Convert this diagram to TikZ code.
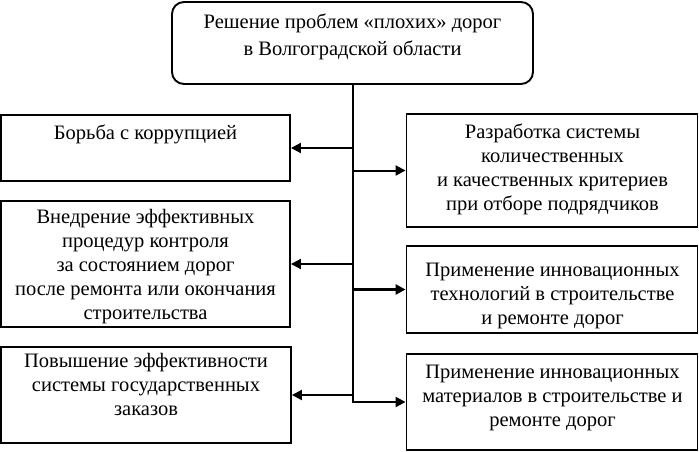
\documentclass[tikz,border=0pt]{standalone}
\usepackage{fontspec}
\setmainfont{Liberation Serif}
\usetikzlibrary{arrows.meta}
\begin{document}
\begin{tikzpicture}[x=1pt,y=-1pt,
  box/.style={draw, line width=1.9pt, inner sep=0pt, rectangle},
  txt/.style={align=center, inner sep=0pt, anchor=base, font=\fontsize{20.5}{24}\selectfont},
  conn/.style={line width=2pt, -{Triangle[length=10pt,width=10pt]}}]
\useasboundingbox (0,0) rectangle (699,452);
% boxes
\node[box, rounded corners=12pt, minimum width=361pt, minimum height=82pt] (top) at (352.5,43) {};
\node[box, minimum width=289pt, minimum height=66pt]  (l1) at (145.5,148) {};
\node[box, minimum width=289pt, minimum height=126pt] (l2) at (145.5,264) {};
\node[box, minimum width=290pt, minimum height=96pt]  (l3) at (146,395) {};
\node[box, minimum width=291pt, minimum height=113pt] (r1) at (552,170.5) {};
\node[box, minimum width=291pt, minimum height=87pt]  (r2) at (552,289.5) {};
\node[box, minimum width=291pt, minimum height=96pt]  (r3) at (552,402) {};
% texts (anchor = baseline of the last line)
\node[txt, font=\fontsize{20.5}{27}\selectfont] (ttop) at (352.5,56) {Решение проблем «плохих» дорог\\в Волгоградской области};
\node[txt] (tl1) at (145.5,139) {Борьба с коррупцией};
\node[txt] (tl2) at (145.5,319) {Внедрение эффективных\\процедур контроля\\за состоянием дорог\\после ремонта или окончания\\строительства};
\node[txt] (tl3) at (146,415) {Повышение эффективности\\системы государственных\\заказов};
\node[txt] (tr1) at (552.5,210) {Разработка системы\\количественных\\и качественных критериев\\при отборе подрядчиков};
\node[txt] (tr2) at (552.5,324) {Применение инновационных\\технологий в строительстве\\и ремонте дорог};
\node[txt] (tr3) at (552.5,426) {Применение инновационных\\материалов в строительстве и\\ремонте дорог};
% connectors
\draw[conn] (top.south) |- (r3.west);
\draw[conn] (top.south |- l1.east) -- (l1.east);
\draw[conn] (top.south |- l2.east) -- (l2.east);
\draw[conn] (top.south |- l3.east) -- (l3.east);
\draw[conn] (top.south |- r1.west) -- (r1.west);
\draw[conn, line width=3pt] (top.south |- r2.west) -- (r2.west);
\end{tikzpicture}
\end{document}
